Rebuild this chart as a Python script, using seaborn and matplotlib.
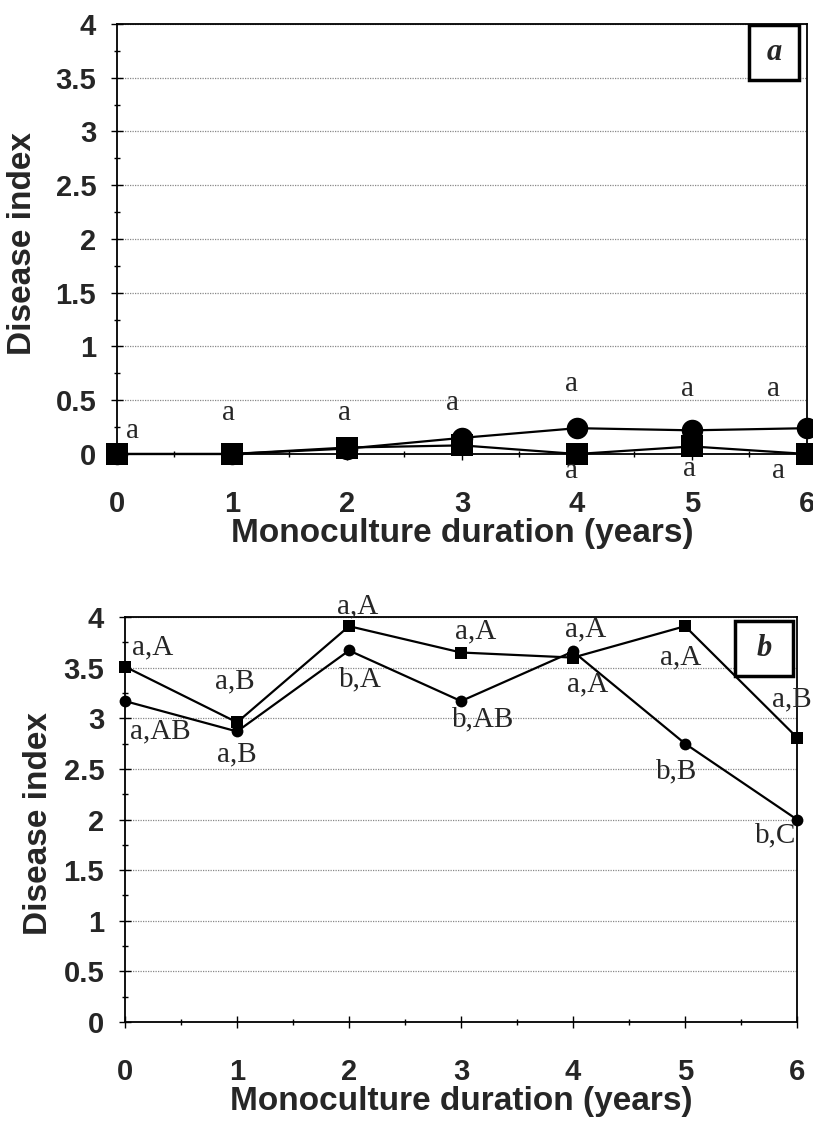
import numpy as np
import pandas as pd
import matplotlib
matplotlib.use("Agg")
import matplotlib.pyplot as plt
import seaborn as sns
from matplotlib.ticker import MultipleLocator, FuncFormatter

# dados
years = [0, 1, 2, 3, 4, 5, 6]
a_circle = [0, 0, 0.05, 0.15, 0.24, 0.22, 0.24]
a_square = [0, 0, 0.06, 0.08, 0, 0.07, 0]
b_circle = [3.17, 2.87, 3.67, 3.17, 3.66, 2.75, 2.0]
b_square = [3.51, 2.96, 3.91, 3.65, 3.6, 3.91, 2.81]

# letras de significancia (texto, x, y, alinhamento)
a_labels = [("a", 0.08, 0.21, "left"), ("a", 0.97, 0.38, "center"),
            ("a", 1.98, 0.38, "center"), ("a", 2.92, 0.47, "center"),
            ("a", 3.95, 0.65, "center"), ("a", 4.96, 0.60, "center"),
            ("a", 5.71, 0.60, "center"), ("a", 3.95, -0.16, "center"),
            ("a", 4.98, -0.14, "center"), ("a", 5.75, -0.16, "center")]
b_labels = [("a,A", 0.06, 3.70, "left"), ("a,AB", 0.04, 2.87, "left"),
            ("a,B", 0.98, 3.36, "center"), ("a,B", 1.0, 2.64, "center"),
            ("a,A", 2.08, 4.11, "center"), ("b,A", 2.1, 3.38, "center"),
            ("a,A", 3.13, 3.86, "center"), ("b,AB", 3.2, 2.99, "center"),
            ("a,A", 4.11, 3.88, "center"), ("a,A", 4.13, 3.34, "center"),
            ("a,A", 4.96, 3.60, "center"), ("b,B", 4.92, 2.48, "center"),
            ("a,B", 5.78, 3.19, "left"), ("b,C", 5.81, 1.84, "center")]

sns.set_style("white")
plt.rcParams["font.family"] = ["Liberation Sans", "DejaVu Sans"]

fig = plt.figure(figsize=(8.13, 11.24), dpi=100)
ax1 = fig.add_axes([0.1439, 0.5961, 0.8487, 0.3826])
ax2 = fig.add_axes([0.1538, 0.0907, 0.8266, 0.3603])


def draw_panel(ax, circ, sq, msize, labels, letter, box, ylab_x):
    df = pd.DataFrame({
        "year": years * 2,
        "value": circ + sq,
        "series": ["circle"] * len(years) + ["square"] * len(years),
    })
    sns.lineplot(data=df, x="year", y="value", style="series",
                 markers={"circle": "o", "square": "s"}, dashes=False,
                 color="black", lw=1.6, markersize=msize, markeredgewidth=0,
                 legend=False, ax=ax, clip_on=False, zorder=5)
    ax.set_xlim(0, 6)
    ax.set_ylim(0, 4)
    ax.xaxis.set_major_locator(MultipleLocator(1))
    ax.xaxis.set_minor_locator(MultipleLocator(0.5))
    ax.yaxis.set_major_locator(MultipleLocator(0.5))
    ax.yaxis.set_minor_locator(MultipleLocator(0.25))
    ax.yaxis.set_major_formatter(FuncFormatter(lambda v, p: f"{v:g}"))
    ax.tick_params(which="both", direction="inout", color="black",
                   left=True, bottom=True, labelsize=21, width=1)
    ax.tick_params(which="major", length=8)
    ax.tick_params(which="minor", length=5)
    ax.tick_params(axis="x", pad=22)
    ax.tick_params(axis="y", pad=11)
    for lab in ax.get_xticklabels() + ax.get_yticklabels():
        lab.set_fontweight("bold")
    ax.grid(axis="y", which="major", color="#888888", ls=(0, (1, 1)), lw=0.9)
    ax.grid(axis="x", visible=False)
    for s in ax.spines.values():
        s.set_color("black")
        s.set_linewidth(1.3)
    ax.set_xlabel("Monoculture duration (years)", fontsize=24,
                  fontweight="bold", labelpad=0)
    ax.set_ylabel("Disease index", fontsize=24, fontweight="bold")
    ax.yaxis.set_label_coords(ylab_x, 0.49)
    for txt, x, y, ha in labels:
        ax.text(x, y, txt, ha=ha, va="center", fontsize=21,
                family="Liberation Serif", clip_on=False, zorder=6)
    x0, x1, y0, y1 = box
    ax.add_patch(plt.Rectangle((x0, y0), x1 - x0, y1 - y0, fill=True,
                               facecolor="white", edgecolor="black", lw=2.5,
                               zorder=4))
    ax.text((x0 + x1) / 2, (y0 + y1) / 2, letter, ha="center", va="center",
            fontsize=22, family="Liberation Serif", style="italic",
            fontweight="bold", zorder=6)


draw_panel(ax1, a_circle, a_square, 15.5, a_labels, "a",
           (5.5, 5.93, 3.48, 3.99), -0.115)
draw_panel(ax2, b_circle, b_square, 8.5, b_labels, "b",
           (5.45, 5.96, 3.42, 3.96), -0.105)

fig.savefig("out.png", dpi=100)
